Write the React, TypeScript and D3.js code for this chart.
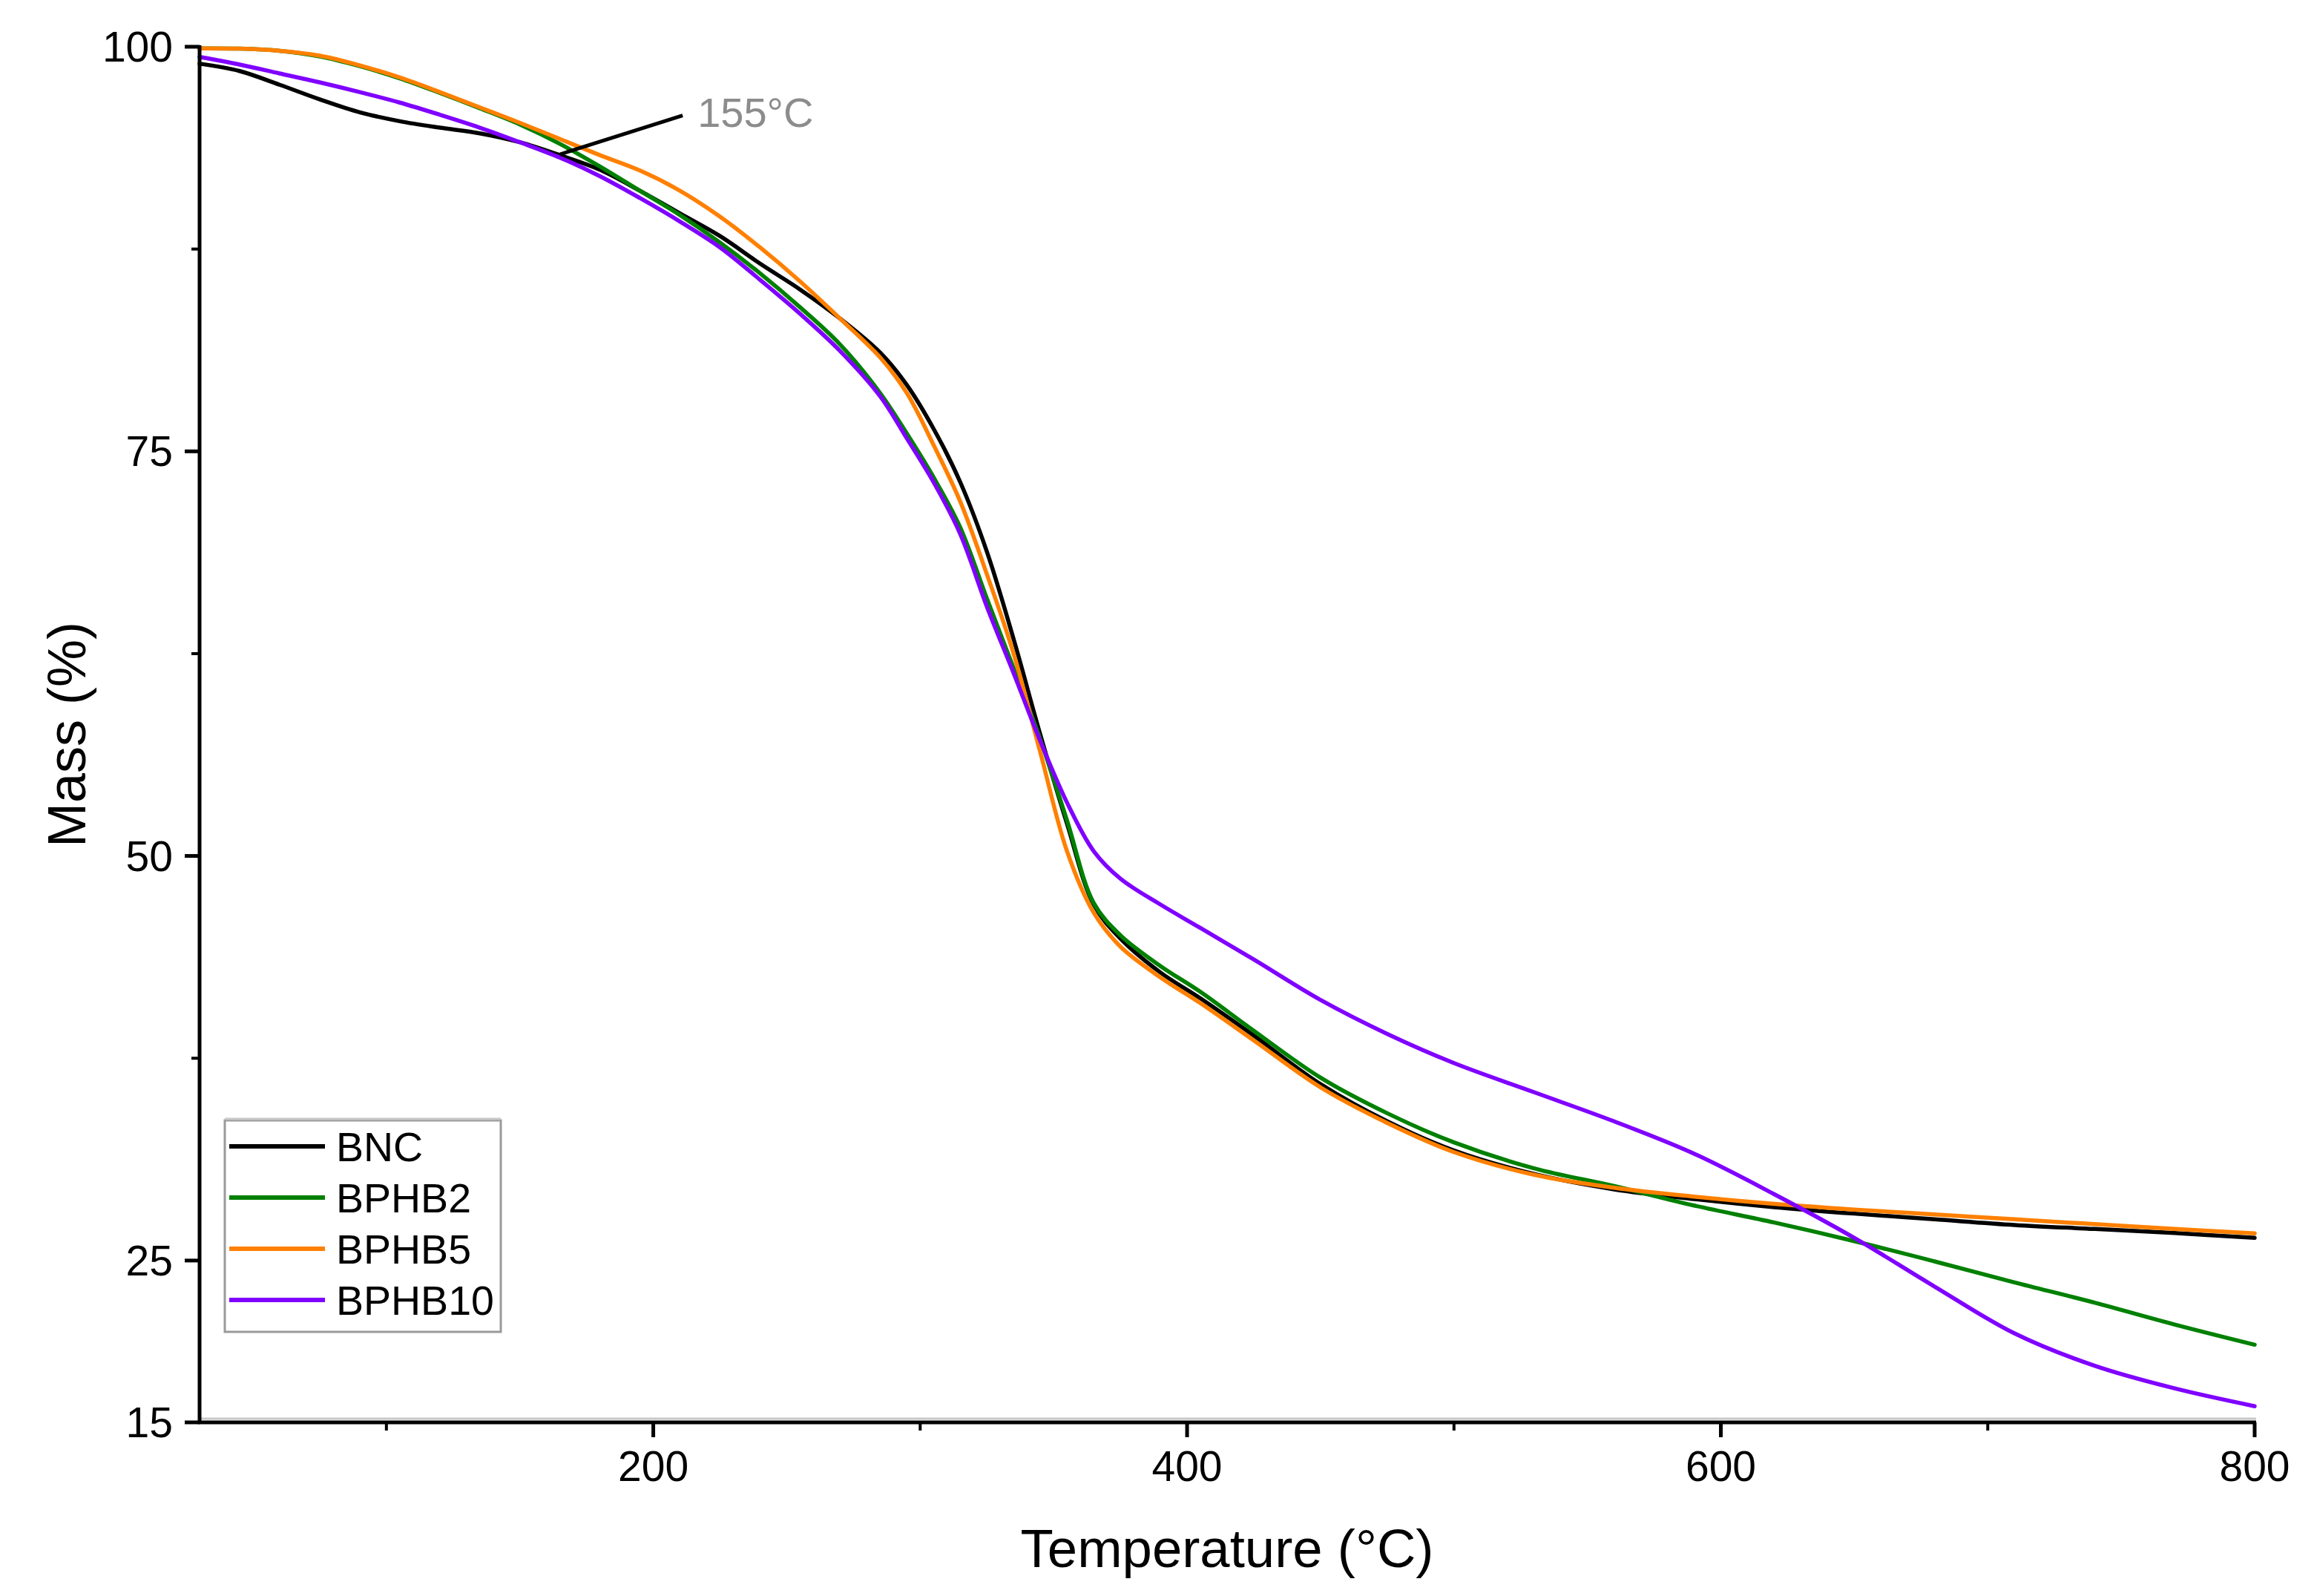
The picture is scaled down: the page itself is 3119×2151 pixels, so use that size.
import React, { useEffect } from "react";
import * as d3 from "d3";

// ---------- DATA ----------
const temps = [
  30, 45, 60, 75, 90, 105, 120, 135, 150, 165, 180, 195, 210, 225, 240, 255, 270, 285, 295, 305, 315,
  325, 335, 345, 355, 365, 375, 390, 405, 425, 450, 475, 500, 530, 560, 590, 620, 650, 680, 710, 740,
  770, 800,
];

const bncMass = [
  98.95, 98.5, 97.65, 96.75, 95.95, 95.4, 95.0, 94.65, 94.1, 93.3, 92.4, 91.1, 89.7, 88.3, 86.6, 85.0,
  83.2, 81.1, 79.1, 76.4, 73.1, 68.8, 63.4, 57.5, 52.0, 47.0, 44.9, 42.8, 41.2, 38.9, 35.9, 33.6, 31.8,
  30.35, 29.4, 28.8, 28.3, 27.9, 27.55, 27.2, 26.95, 26.7, 26.4,
];

const bphb2Mass = [
  99.9, 99.88, 99.75, 99.4, 98.8, 98.05, 97.15, 96.2, 95.2, 94.0, 92.6, 91.1, 89.6, 87.9, 86.0, 83.9,
  81.6, 78.6, 76.1, 73.4, 70.3, 65.9, 61.6, 57.2, 52.2, 47.1, 45.1, 43.2, 41.6, 39.2, 36.3, 34.1, 32.3,
  30.7, 29.6, 28.4, 27.35, 26.2, 24.95, 23.65, 22.4, 21.05, 19.8,
];

const bphb5Mass = [
  99.9, 99.88, 99.75, 99.45, 98.85, 98.1, 97.2, 96.25, 95.3, 94.3, 93.3, 92.35, 91.1, 89.5, 87.6,
  85.5, 83.2, 80.8, 78.6, 75.4, 71.9, 67.4, 62.5, 56.4, 50.3, 46.5, 44.4, 42.5, 40.9, 38.6, 35.7, 33.5,
  31.7, 30.3, 29.5, 28.95, 28.5, 28.15, 27.85, 27.55, 27.25, 26.95, 26.68,
];

const bphb10Mass = [
  99.37, 98.9, 98.35, 97.8, 97.2, 96.55, 95.8, 95.0, 94.1, 93.15, 92.0, 90.65, 89.2, 87.6, 85.6, 83.5,
  81.2, 78.4, 75.8, 73.1, 69.9, 65.4, 61.3, 57.1, 53.3, 50.3, 48.6, 47.0, 45.55, 43.6, 41.1, 39.0, 37.2,
  35.4, 33.6, 31.6, 29.1, 26.4, 23.4, 20.5, 18.5, 17.1, 16.0,
];

const seriesNames = ["BNC", "BPHB2", "BPHB5", "BPHB10"];
const seriesColors = ["#000000", "#008000", "#ff8000", "#8000ff"];
const seriesValues = [bncMass, bphb2Mass, bphb5Mass, bphb10Mass];

const xMajorTicks = [200, 400, 600, 800];
const xMinorTicks = [100, 300, 500, 700];
const yMajorTicks = [100, 75, 50, 25, 15];
const yMinorTicks = [87.5, 62.5, 37.5];

const annotationText = "155°C";
const annotationPoint = [165, 93.35]; // on BNC curve
const annotationLabel = [211, 95.75];

// ---------- LAYOUT ----------
const W = 3119;
const H = 2151;
const left = 269;
const right = 3039;
const top = 63;
const bottom = 1917;
const FONT = "'Liberation Sans', Arial, Helvetica, sans-serif";

export default function App() {
  useEffect(() => {
    document.body.style.margin = "0";
  }, []);

  const x = d3.scaleLinear().domain([30, 800]).range([left, right]);
  const y = d3.scaleLinear().domain([15, 100]).range([bottom, top]);

  const line = d3
    .line<[number, number]>()
    .x((d) => x(d[0]))
    .y((d) => y(d[1]))
    .curve(d3.curveCatmullRom.alpha(0.5));

  const legendX = 303;
  const legendY = 1510;
  const legendW = 372;
  const legendH = 285;
  const legendRowY = (i: number) => legendY + 35 + i * 69;

  return (
    <svg width={W} height={H} style={{ display: "block", background: "#fff" }} fontFamily={FONT}>
      <rect x={0} y={0} width={W} height={H} fill="#fff" />

      {/* curves */}
      <g fill="none" strokeWidth={5.5} strokeLinejoin="round" strokeLinecap="round">
        {seriesValues.map((vals, i) => (
          <path
            key={seriesNames[i]}
            d={line(temps.map((t, j) => [t, vals[j]] as [number, number])) || ""}
            stroke={seriesColors[i]}
          />
        ))}
      </g>

      {/* annotation */}
      <line
        x1={x(annotationLabel[0])}
        y1={y(annotationLabel[1])}
        x2={x(annotationPoint[0])}
        y2={y(annotationPoint[1])}
        stroke="#000"
        strokeWidth={5}
      />
      <text
        x={x(annotationLabel[0]) + 20}
        y={y(annotationLabel[1]) + 15}
        fontSize={56}
        fill="#8c8c8c"
      >
        {annotationText}
      </text>

      {/* x axis */}
      <line x1={left} x2={right + 2} y1={bottom - 5} y2={bottom - 5} stroke="#c8c8c8" strokeWidth={3} />
      <line x1={left - 2} x2={right + 2} y1={bottom} y2={bottom} stroke="#000" strokeWidth={5} />
      {xMajorTicks.map((t) => (
        <g key={"xM" + t}>
          <line x1={x(t)} x2={x(t)} y1={bottom} y2={bottom + 20} stroke="#000" strokeWidth={5} />
          <text x={x(t)} y={bottom + 79} fontSize={57} textAnchor="middle" fill="#000">
            {t}
          </text>
        </g>
      ))}
      {xMinorTicks.map((t) => (
        <line key={"xm" + t} x1={x(t)} x2={x(t)} y1={bottom} y2={bottom + 11} stroke="#000" strokeWidth={4} />
      ))}

      {/* y axis */}
      <line x1={left} x2={left} y1={top - 2} y2={bottom + 2} stroke="#000" strokeWidth={5} />
      {yMajorTicks.map((t) => (
        <g key={"yM" + t}>
          <line x1={left} x2={left - 20} y1={y(t)} y2={y(t)} stroke="#000" strokeWidth={5} />
          <text x={233} y={y(t) + 20} fontSize={57} textAnchor="end" fill="#000">
            {t}
          </text>
        </g>
      ))}
      {yMinorTicks.map((t) => (
        <line key={"ym" + t} x1={left} x2={left - 11} y1={y(t)} y2={y(t)} stroke="#000" strokeWidth={4} />
      ))}

      {/* axis titles */}
      <text x={(left + right) / 2} y={2112} fontSize={72.5} textAnchor="middle" fill="#000">
        Temperature (°C)
      </text>
      <text
        transform={`translate(115, ${y(57.5)}) rotate(-90)`}
        fontSize={72}
        textAnchor="middle"
        fill="#000"
      >
        Mass (%)
      </text>

      {/* legend */}
      <rect
        x={legendX}
        y={legendY}
        width={legendW}
        height={legendH}
        fill="#fff"
        stroke="#9a9a9a"
        strokeWidth={3}
      />
      <line x1={legendX} x2={legendX + legendW} y1={legendY - 2} y2={legendY - 2} stroke="#c8c8c8" strokeWidth={3} />
      {seriesNames.map((name, i) => (
        <g key={"lg" + name}>
          <line
            x1={legendX + 6}
            x2={legendX + 135}
            y1={legendRowY(i)}
            y2={legendRowY(i)}
            stroke={seriesColors[i]}
            strokeWidth={6}
          />
          <text x={legendX + 150} y={legendRowY(i) + 20} fontSize={55.5} fill="#000">
            {name}
          </text>
        </g>
      ))}
    </svg>
  );
}
